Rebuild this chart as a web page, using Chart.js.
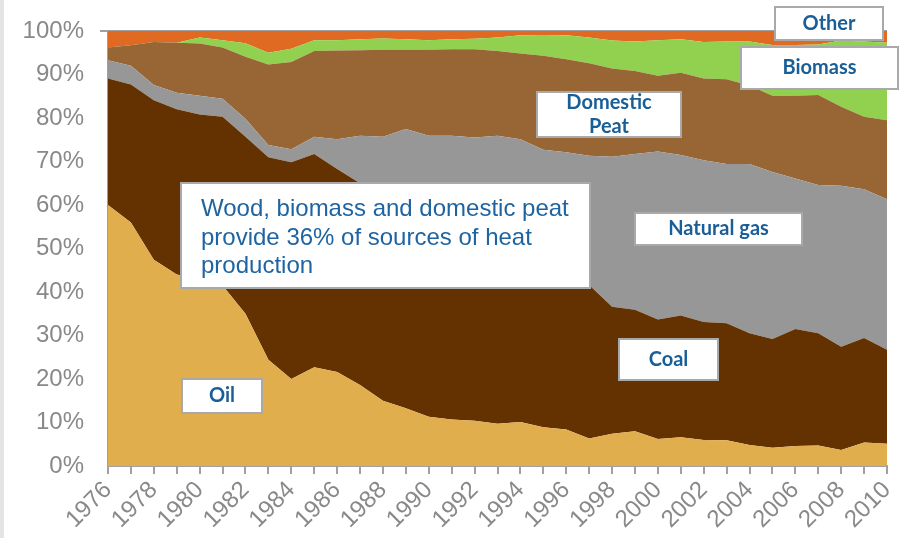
<!DOCTYPE html>
<html>
<head>
<meta charset="utf-8">
<script src="https://cdn.jsdelivr.net/npm/chart.js@4"></script>
<style>
  body { margin: 0; background: #fff; }
  #wrap { width: 901px; height: 538px; position: relative; }
</style>
</head>
<body>
<div id="wrap"><canvas id="myChart"></canvas></div>
<script>
  // heat production by source, share of total (%)
  const years = ["1976", "1977", "1978", "1979", "1980", "1981", "1982", "1983", "1984", "1985",
    "1986", "1987", "1988", "1989", "1990", "1991", "1992", "1993", "1994", "1995",
    "1996", "1997", "1998", "1999", "2000", "2001", "2002", "2003", "2004", "2005",
    "2006", "2007", "2008", "2009", "2010"];
  const oil = [60, 56, 47.4, 44, 43, 41.5, 35, 24.4, 20, 22.7, 21.6, 18.6, 15, 13.3, 11.3, 10.7, 10.4, 9.7, 10.1, 8.9,
    8.4, 6.3, 7.4, 8, 6.2, 6.6, 6, 5.9, 4.8, 4.2, 4.6, 4.7, 3.7, 5.4, 5.1];
  const coal = [29.1, 31.7, 36.7, 38, 37.8, 38.8, 40.7, 46.6, 49.8, 49, 46.7, 46.4, 47.5, 46.7, 46.7, 45.8, 44.1, 42.8, 40.4, 39.6,
    37.1, 35.3, 29.2, 27.9, 27.5, 28, 27.1, 26.9, 25.7, 25, 26.9, 25.8, 23.7, 24, 21.6];
  const naturalGas = [4.2, 4.3, 3.5, 3.8, 4.3, 4.1, 4.1, 2.8, 3, 4, 6.8, 10.9, 13.2, 17.5, 17.9, 19.4, 21, 23.4, 24.6, 24.2,
    26.6, 29.7, 34.5, 35.8, 38.6, 36.9, 37.2, 36.6, 38.9, 38.4, 34.6, 34.1, 37, 34.2, 34.6];
  const peat = [2.9, 4.7, 9.9, 11.5, 12, 11.8, 14.3, 18.5, 20.1, 19.7, 20.4, 19.7, 20, 18.2, 19.8, 19.9, 20.3, 19.5, 19.7, 21.6,
    21.4, 21.3, 20.3, 19.1, 17.4, 18.9, 18.8, 19.5, 18.1, 17.5, 19, 20.7, 18.2, 16.7, 18.2];
  const biomass = [0, 0, 0, 0, 1.4, 1.7, 3.1, 2.7, 3, 2.5, 2.4, 2.5, 2.6, 2.4, 2.2, 2.3, 2.4, 3.1, 4.2, 4.8,
    5.5, 5.9, 6.4, 6.8, 8.2, 7.7, 8.4, 8.7, 10.1, 11.7, 11.7, 11.6, 15.2, 17.3, 17.8];
  const other = [3.8, 3.3, 2.5, 2.7, 1.5, 2.1, 2.8, 5, 4.1, 2.1, 2.1, 1.9, 1.7, 1.9, 2.1, 1.9, 1.8, 1.5, 1, 0.9,
    1, 1.5, 2.2, 2.4, 2.1, 1.9, 2.5, 2.4, 2.4, 3.2, 3.2, 3.1, 2.2, 2.4, 2.7];

  const series = [
    { label: "Oil", data: oil, color: "#e1ae4e" },
    { label: "Coal", data: coal, color: "#643200" },
    { label: "Natural gas", data: naturalGas, color: "#979797" },
    { label: "Domestic Peat", data: peat, color: "#986534" },
    { label: "Biomass", data: biomass, color: "#92d050" },
    { label: "Other", data: other, color: "#e06a22" },
  ];

  // text boxes laid over the plot
  const notes = [
    { box: [181, 183, 409, 105], lines: ["Wood, biomass and domestic peat", "provide 36% of sources of heat", "production"], bold: false },
    { box: [182, 379, 80, 34], lines: ["Oil"], bold: true },
    { box: [619, 339, 99, 41], lines: ["Coal"], bold: true },
    { box: [635, 213, 167, 32], lines: ["Natural gas"], bold: true },
    { box: [537, 92, 144, 45], lines: ["Domestic", "Peat"], bold: true },
    { box: [741, 47, 157, 42], lines: ["Biomass"], bold: true },
    { box: [775, 7, 108, 33], lines: ["Other"], bold: true },
  ];

  const notesPlugin = {
    id: "notes",
    beforeDraw(chart) {
      const c = chart.ctx;
      c.save();
      c.fillStyle = "#e4e4e4";
      c.fillRect(0, 0, 4, chart.height);
      c.restore();
    },
    afterDraw(chart) {
      const c = chart.ctx;
      c.save();
      notes.forEach(n => {
        const [x, y, w, h] = n.box;
        c.fillStyle = "#fff";
        c.fillRect(x, y, w, h);
        c.strokeStyle = "#a9a9a9";
        c.lineWidth = 2;
        c.strokeRect(x, y, w, h);
        if (n.bold) {
          c.textBaseline = "middle";
          c.font = "bold 20px Lato";
          c.fillStyle = "#1a5e98";
          c.textAlign = "center";
          const lh = 24;
          const y0 = y + h / 2 - (n.lines.length - 1) * lh / 2;
          n.lines.forEach((t, i) => c.fillText(t, x + w / 2, y0 + i * lh));
        } else {
          c.textBaseline = "alphabetic";
          c.font = "24px 'Liberation Sans'";
          c.fillStyle = "#1f64a2";
          c.textAlign = "left";
          n.lines.forEach((t, i) => c.fillText(t, x + 20, y + 33 + i * 28.5));
        }
      });
      c.restore();
    },
  };

  const ctx = document.getElementById("myChart").getContext("2d");
  new Chart(ctx, {
    type: "line",
    data: {
      labels: years,
      datasets: series.map((s, i) => ({
        label: s.label,
        data: s.data,
        backgroundColor: s.color,
        borderWidth: 0,
        pointRadius: 0,
        fill: i === 0 ? "origin" : "-1",
        tension: 0,
      })),
    },
    options: {
      responsive: true,
      maintainAspectRatio: false,
      animation: false,
      layout: { padding: { top: 31, right: 14, left: 0, bottom: 0 } },
      plugins: { legend: { display: false }, tooltip: { enabled: false } },
      scales: {
        x: {
          offset: false,
          grid: { drawOnChartArea: false, color: "#a0a0a0", lineWidth: 2, tickLength: 8 },
          border: { color: "#a0a0a0", width: 2 },
          ticks: {
            autoSkip: false,
            maxRotation: 45,
            minRotation: 45,
            padding: 2,
            color: "#898989",
            font: { family: "'Liberation Sans'", size: 24 },
            callback: (v, i) => (i % 2 === 0 ? years[i] : ""),
          },
          afterFit: (scale) => {
            scale.height = 72;
            scale.paddingLeft = 0;
            scale.paddingRight = 0;
          },
        },
        y: {
          stacked: true,
          min: 0,
          max: 100,
          z: 1,
          grid: {
            drawOnChartArea: true,
            tickLength: 8,
            lineWidth: 2,
            color: (c) => (c.tick && c.tick.value === 100 ? "#a0a0a0" : "rgba(0,0,0,0)"),
          },
          border: { color: "#a0a0a0", width: 2 },
          ticks: {
            stepSize: 10,
            padding: 16,
            color: "#898989",
            font: { family: "'Liberation Sans'", size: 24 },
            callback: (v) => v + "%",
          },
          afterFit: (scale) => { scale.width = 108; },
        },
      },
    },
    plugins: [notesPlugin],
  });
</script>
</body>
</html>
